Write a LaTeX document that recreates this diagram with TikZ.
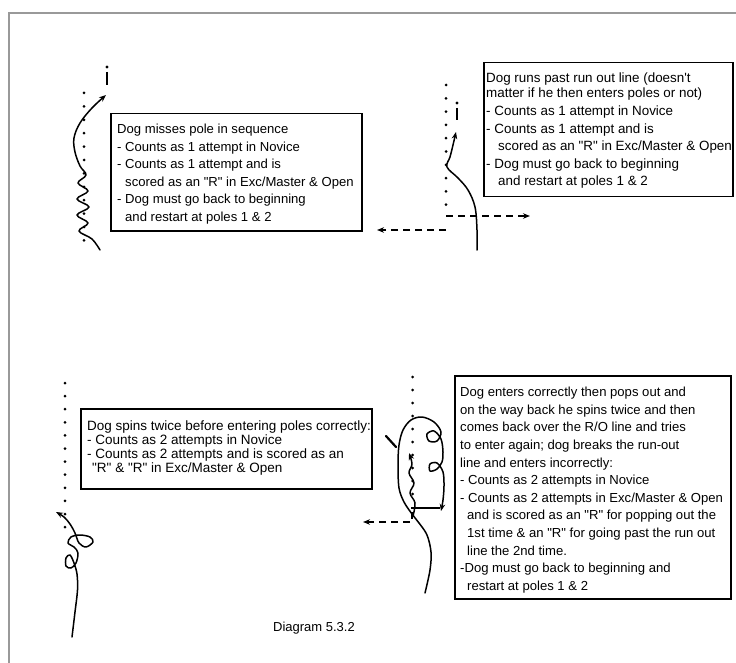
\documentclass[tikz,border=0pt]{standalone}
\usepackage{fontspec}
\setmainfont{Liberation Sans}[Ligatures=TeXOff]
\usetikzlibrary{arrows.meta}
\begin{document}
\begin{tikzpicture}[x=1pt,y=-1pt,
  txt/.style={anchor=north west, inner sep=0pt, align=left},
  boxst/.style={draw, line width=1.5pt, anchor=north west, inner sep=0pt},
  trail/.style={line width=1.5pt, line cap=round, line join=round},
  tip/.style={-{Stealth[length=7pt,width=5.5pt]}},
  dsh/.style={line width=1.8pt, dash pattern=on 7pt off 5pt},
  polemark/.style={line width=2.6pt}
]
\useasboundingbox (0,0) rectangle (736,663);
% frame
\draw[line width=2pt, black!40] (9,663) -- (9,13) -- (736,13);

% ---------- top left ----------
\foreach \i in {0,...,11} \fill (84,{93+13.4*\i}) circle[radius=1.5pt];
\fill (107,67) circle[radius=1.6pt];
\draw[polemark] (107,72) -- (107,85);
\draw[trail,tip] plot[smooth,tension=0.6] coordinates {(100,250) (92,239) (79,231) (88,223) (77,215) (89,207) (77,199) (88,191) (78,183) (86,175) (80,166) (75,152) (74,138) (80,123) (92,108) (106,95)};
\node[boxst, minimum width=251pt, minimum height=117pt] (b1) at (110,113) {};
\node[txt, font=\fontsize{13.1}{17.5}\selectfont] (t1) at (117,124) {Dog misses pole in sequence\\
- Counts as 1 attempt in Novice\\
- Counts as 1 attempt and is\\
\hspace*{8pt}scored as an "R" in Exc/Master \& Open\\
- Dog must go back to beginning\\
\hspace*{8pt}and restart at poles 1 \& 2};

% ---------- top right ----------
\foreach \i in {0,...,9} \fill (446,{85+13.3*\i}) circle[radius=1.5pt];
\fill (457,103) circle[radius=1.6pt];
\draw[polemark] (457,108) -- (457,120);
\draw[trail,tip] plot[smooth,tension=0.6] coordinates {(477,250) (477,230) (475,207) (468,190) (458,178) (447,167) (450,157) (453,145) (456,132)};
\coordinate (r1s) at (446,216);
\coordinate (r1e) at (530,216);
\coordinate (l1s) at (446,230);
\coordinate (l1e) at (377,230);
\draw[dsh,tip] (r1s) -- (r1e);
\draw[dsh,tip] (l1s) -- (l1e);
\node[boxst, minimum width=249pt, minimum height=134pt] (b2) at (483,62) {};
\node[txt, font=\fontsize{13.4}{17.6}\selectfont] (t2) at (486,73) {Dog runs past run out line (doesn't\\[-2.6pt]
matter if he then enters poles or not)\\
- Counts as 1 attempt in Novice\\
- Counts as 1 attempt and is\\
\hspace*{12pt}scored as an "R" in Exc/Master \& Open\\
- Dog must go back to beginning\\
\hspace*{12pt}and restart at poles 1 \& 2};

% ---------- bottom left ----------
\foreach \i in {0,...,11} \fill (65,{383+13.1*\i}) circle[radius=1.5pt];
\draw[trail,tip] plot[smooth,tension=0.55] coordinates {(72,637) (75,612) (77.5,590) (77,574) (74,563) (70,555) (66,558) (66,566) (71,568) (76,563) (78,553) (74,547) (68,543) (71,537) (80,535) (90,537) (93,542) (86,547) (79,543) (75,533) (70,524) (64,517) (56,512)};
\node[boxst, minimum width=291pt, minimum height=80pt] (b3) at (80,408) {};
\node[txt, font=\fontsize{13.5}{13.9}\selectfont] (t3) at (87,421) {Dog spins twice before entering poles correctly:\\
- Counts as 2 attempts in Novice\\
- Counts as 2 attempts and is scored as an\\
\hspace*{5pt}"R" \& "R" in Exc/Master \& Open};

% ---------- bottom right ----------
\foreach \i in {0,...,9} \fill (412.5,{377+13*\i}) circle[radius=1.5pt];
\draw[trail,tip] plot[smooth,tension=0.55] coordinates {(425,593) (430,570) (431,552) (427,535) (419,523) (412,514) (404,502) (399,488) (398,465) (399,445) (403,430) (411,420) (422,417) (434,422) (441,432) (437,441) (429,441) (427,434) (434,431) (441,439) (443,452) (442,462) (437,469) (430,471) (430,464) (437,463) (443,472) (444,486) (443,500) (441,511)};
\draw[trail,tip] plot[smooth,tension=0.6] coordinates {(413,516) (415,503) (410,493) (414,483) (409,473) (412,464) (409,453)};
\draw[line width=2.2pt, line cap=round] (386,436) -- (396,447);
\coordinate (ro1) at (411,508);
\coordinate (ro2) at (440,508);
\draw[line width=1.6pt] (ro1) -- (ro2);
\coordinate (l2s) at (412,512);
\coordinate (l2c) at (412,522);
\coordinate (l2e) at (363,522);
\draw[dsh,tip] (l2s) -- (l2c) -- (l2e);
\node[boxst, minimum width=276pt, minimum height=223pt] (b4) at (454,375) {};
\node[txt, font=\fontsize{13.1}{17.6}\selectfont] (t4) at (460,387) {Dog enters correctly then pops out and\\
on the way back he spins twice and then\\
comes back over the R/O line and tries\\
to enter again; dog breaks the run-out\\
line and enters incorrectly:\\
- Counts as 2 attempts in Novice\\
- Counts as 2 attempts in Exc/Master \& Open\\
\hspace*{7pt}and is scored as an "R" for popping out the\\
\hspace*{7pt}1st time \& an "R" for going past the run out\\
\hspace*{7pt}line the 2nd time.\\
-Dog must go back to beginning and\\
\hspace*{7pt}restart at poles 1 \& 2};

% caption
\node[font=\fontsize{13}{15}\selectfont] (cap) at (314,628) {Diagram 5.3.2};
\end{tikzpicture}
\end{document}
